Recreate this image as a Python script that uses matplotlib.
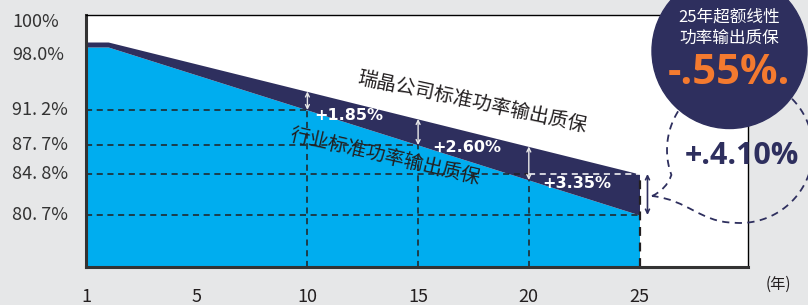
import numpy as np
import matplotlib
matplotlib.use('Agg')
import matplotlib.pyplot as plt
from matplotlib.patches import Circle, PathPatch
from matplotlib.path import Path

plt.rcParams['font.family'] = ['Noto Sans CJK SC', 'DejaVu Sans']

# 数据
years = [0, 1, 10, 15, 20, 25]
company = [98.0, 98.0, 93.05, 90.3, 87.55, 84.8]   # 瑞晶公司标准
industry = [97.5, 97.5, 91.2, 87.7, 84.2, 80.7]    # 行业标准

gap_years = [10, 15, 20]
gap_labels = ['+1.85%', '+2.60%', '+3.35%']
gap_label_pos = [(10.32, 90.6), (15.65, 87.4), (20.6, 83.8)]

ytick_vals = [100, 98.0, 91.2, 87.7, 84.8, 80.7]
ytick_labels = ['100%', '98.0%', '91. 2%', '87. 7%', '84. 8%', '80. 7%']
xtick_vals = [0, 5, 10, 15, 20, 25]
xtick_labels = ['1', '5', '10', '15', '20', '25']

navy = '#2e2f5e'
blue = '#00adef'
ink = '#231f20'
bg = '#e6e7e8'
orange = '#f47a2f'

fig = plt.figure(figsize=(8.08, 3.05), dpi=100, facecolor=bg)
ax = fig.add_axes([86 / 808, 1 - 267 / 305, (748 - 86) / 808, (267 - 15) / 305])
ax.set_facecolor('white')
ax.set_xlim(0, 29.9)
ax.set_ylim(75.5, 100.7)

# 面积
ax.fill_between(years, 75.5, industry, color=blue, lw=0, zorder=1)
ax.fill_between(years, industry, company, color=navy, lw=0, zorder=1)

# 虚线
dash = (0, (4, 3))
ax.hlines(industry[2], 0, years[2], colors=ink, lw=1.1, linestyles=dash, zorder=2)
ax.hlines(industry[3], 0, years[3], colors=ink, lw=1.1, linestyles=dash, zorder=2)
ax.hlines(industry[-1], 0, years[-1], colors=ink, lw=1.1, linestyles=dash, zorder=2)
ax.hlines(company[-1], 0, years[4], colors=ink, lw=1.1, linestyles=dash, zorder=2)
ax.hlines(company[-1], years[4], years[-1], colors='white', lw=1.1, linestyles=dash, zorder=2)
for yr, ind in zip(years[2:5], industry[2:5]):
    ax.vlines(yr, 75.5, ind, colors=ink, lw=1.1, linestyles=dash, zorder=2)
ax.vlines(years[-1], 75.5, company[-1], colors=ink, lw=1.6, linestyles=dash, zorder=2)

# 差值箭头
for yr, lab, pos in zip(gap_years, gap_labels, gap_label_pos):
    i = years.index(yr)
    ax.annotate('', xy=(yr, company[i]), xytext=(yr, industry[i]),
                arrowprops=dict(arrowstyle='<->', color='#e8e8e8', lw=1,
                                shrinkA=0, shrinkB=0, mutation_scale=7), zorder=3)
    ax.text(pos[0], pos[1], lab, color='white', fontsize=11.5, fontweight='bold',
            family=['DejaVu Sans'], ha='left', va='center', zorder=4)

ax.annotate('', xy=(25.36, company[-1]), xytext=(25.36, industry[-1]),
            arrowprops=dict(arrowstyle='<->', color=navy, lw=1.2,
                            shrinkA=0, shrinkB=0, mutation_scale=7), zorder=3)

ax.text(17.43, 92.03, '瑞晶公司标准功率输出质保', rotation=-12, rotation_mode='anchor',
        ha='center', va='center', fontsize=14, color=ink, zorder=4)
ax.text(13.5, 86.5, '行业标准功率输出质保', rotation=-13, rotation_mode='anchor',
        ha='center', va='center', fontsize=14, color=ink, zorder=4)

# 坐标轴
ax.set_xticks(xtick_vals, xtick_labels)
ax.tick_params(axis='x', length=0, pad=15, labelsize=13, labelcolor=ink)
ax.set_yticks([])
for v, lab in zip(ytick_vals, ytick_labels):
    dy = -9.4 if lab == '98.0%' else 0
    ax.annotate(lab, xy=(0, v), xycoords=('axes fraction', 'data'),
                xytext=(-53.3, dy), textcoords='offset points',
                ha='left', va='center', fontsize=13, color='#333333')

for s in ['left', 'bottom']:
    ax.spines[s].set_linewidth(2.2)
    ax.spines[s].set_color('#333333')
for s in ['top', 'right']:
    ax.spines[s].set_linewidth(1)
    ax.spines[s].set_color('black')

# 右上角装饰
ov = fig.add_axes([0, 0, 1, 1], zorder=5)
ov.set_xlim(0, 808)
ov.set_ylim(305, 0)
ov.axis('off')
ov.patch.set_visible(False)

cx, cy, r = 740, 150, 73
theta = np.radians(np.linspace(160, 455, 120))
arc = np.column_stack([cx + r * np.cos(theta), cy + r * np.sin(theta)])
tip = (652, 196)
verts = [tip, (666, 190), tuple(arc[0])] + [tuple(p) for p in arc[1:]] + \
        [(700, 222), (688, 200), tip]
codes = [Path.MOVETO, Path.CURVE3, Path.CURVE3] + [Path.LINETO] * (len(arc) - 1) + \
        [Path.CURVE4, Path.CURVE4, Path.CURVE4]
ov.add_patch(PathPatch(Path(verts, codes), fill=False, ec=navy, lw=1.3,
                       ls=(0, (4, 3)), zorder=2))

ov.add_patch(Circle((729.5, 51), 77.5, color=navy, zorder=3))
ov.text(729, 17.5, '25年超额线性', color='white', fontsize=12, ha='center', va='center', zorder=4)
ov.text(729, 38, '功率输出质保', color='white', fontsize=12, ha='center', va='center', zorder=4)
ov.text(729, 74, '-.55%.', color=orange, fontsize=30, fontweight='bold',
        family=['Open Sans', 'DejaVu Sans'], ha='center', va='center', zorder=4)
ov.text(742, 156, '+.4.10%', color=navy, fontsize=22, fontweight='bold',
        family=['Open Sans', 'DejaVu Sans'], ha='center', va='center', zorder=4)
ov.text(778, 284, '(年)', color=ink, fontsize=11, ha='center', va='center')

fig.savefig('out.png', dpi=100, facecolor=bg)
